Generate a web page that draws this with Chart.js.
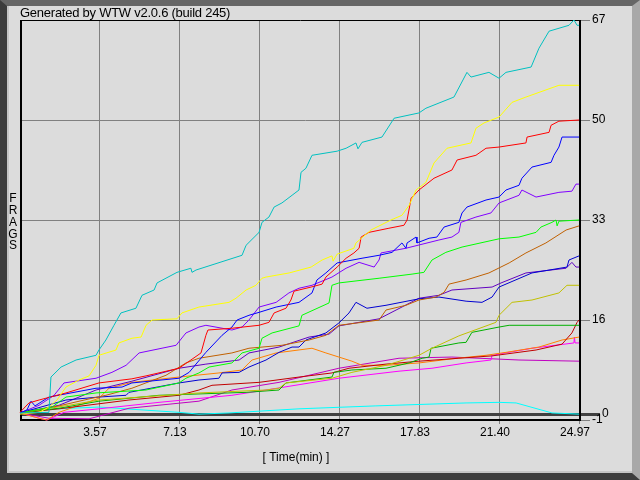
<!DOCTYPE html>
<html><head><meta charset="utf-8">
<script src="https://cdn.jsdelivr.net/npm/chart.js@4/dist/chart.umd.min.js"></script>
<style>
html,body{margin:0;padding:0;background:#dcdcdc;overflow:hidden;}
#frame{position:absolute;left:0;top:0;width:640px;height:480px;box-sizing:border-box;
 border-left:7px solid #3c3c3c;border-top:6px solid #666;border-right:8px solid #a8a8a8;border-bottom:7px solid #3c3c3c;
 background:#dcdcdc;box-shadow:inset 2px 0 0 #c4c4c4, inset 0 -2px 0 #c4c4c4;}
#c{position:absolute;left:0;top:0;}
</style></head><body>
<div id="frame"></div>
<canvas id="c" width="640" height="480"></canvas>
<script>
// ---- axis definitions ----
const xMax = 24.97;
const xTickValues = [0, 3.567, 7.134, 10.701, 14.269, 17.836, 21.403, 24.97];
const xTickLabels = ["", "3.57", "7.13", "10.70", "14.27", "17.83", "21.40", "24.97"];
const yTickValues = [67, 50, 33, 16, 0, -1];
const yTickLabels = ["67", "50", "33", "16", "0", "-1"];
const chartTitle = "Generated by WTW v2.0.6 (build 245)";
const xTitle = "[ Time(min) ]";
const yTitle = "FRAGS";

// ---- series: [time(min), frags] ----
const cyanPlayer = [[0,0.2],[1.29,0.3],[1.38,6.3],[1.83,8.0],[2.50,9.2],[3.39,10.0],[3.52,10.9],[3.83,12.6],[4.19,15.1],[4.50,17.2],[5.17,18.0],[5.44,20.2],[5.98,21.1],[6.11,22.3],[7.00,24.1],[7.62,24.8],[7.67,24.1],[7.85,24.5],[9.90,27.0],[10.08,28.7],[10.66,30.9],[10.79,32.6],[11.10,33.5],[11.33,35.2],[11.68,35.9],[12.13,37.2],[12.44,38.1],[12.53,41.1],[12.75,41.8],[13.02,44.0],[14.14,44.7],[14.54,45.2],[14.98,46.1],[15.07,45.1],[15.25,46.2],[16.14,47.1],[16.68,50.3],[17.79,51.2],[18.10,52.0],[19.35,53.9],[19.93,58.1],[20.11,57.3],[20.91,58.1],[21.36,57.1],[21.67,58.1],[22.79,59.0],[23.14,62.2],[23.59,65.1],[24.48,66.1],[24.70,67.0],[24.84,66.1],[24.93,66.1]];
const yellowPlayer = [[0,0],[0.85,0.3],[1.29,1.2],[1.65,2.4],[2.05,4.6],[2.63,5.8],[3.08,6.5],[3.39,8.3],[3.52,10.0],[4.28,10.9],[4.41,12.1],[4.99,12.9],[5.40,13.1],[5.62,15.1],[5.89,16.0],[7.00,16.2],[7.22,17.2],[7.98,18.2],[9.32,19.0],[9.63,19.7],[10.08,21.1],[10.52,21.9],[10.79,23.1],[10.97,23.3],[12.0,24.0],[12.98,25.0],[13.47,26.2],[13.91,26.9],[13.96,26.0],[14.14,27.2],[14.89,28.2],[14.98,29.1],[15.65,31.3],[16.54,33.0],[17.03,33.8],[17.35,35.5],[17.66,38.1],[18.10,39.4],[18.46,42.7],[19.04,45.2],[20.11,46.1],[20.33,48.6],[20.69,49.5],[21.36,50.5],[21.94,53.0],[22.56,53.9],[24.03,55.9],[24.93,55.9]];
const redPlayer = [[0,0.3],[0.40,1.9],[0.85,2.4],[2.05,3.6],[3.52,5.3],[4.99,6.0],[5.62,6.5],[7.09,7.8],[7.62,9.2],[8.07,10.4],[8.29,13.4],[8.38,14.3],[9.45,14.6],[10.66,15.1],[11.10,15.6],[11.33,17.2],[11.86,18.0],[12.08,19.4],[12.22,20.9],[12.98,21.6],[13.47,22.1],[13.64,23.3],[14.14,25.0],[14.54,26.5],[14.89,27.4],[15.12,28.2],[15.21,30.1],[15.56,30.9],[16.45,31.6],[17.12,32.1],[17.26,33.0],[17.44,36.7],[17.79,38.1],[18.46,40.1],[19.26,41.5],[19.49,43.2],[20.33,44.0],[20.78,45.2],[21.36,45.4],[22.56,46.1],[22.61,47.1],[23.59,47.9],[23.68,49.1],[24.03,49.8],[24.93,50.0]];
const bluePlayer = [[0,0.2],[0.31,0.7],[0.49,2.2],[0.67,1.4],[1.29,2.9],[3.39,4.4],[4.55,4.6],[4.99,5.3],[7.09,6.1],[7.54,7.1],[8.29,10.5],[9.01,13.4],[9.45,14.8],[9.68,16.0],[10.21,16.8],[10.66,17.3],[11.42,18.2],[12.44,19.0],[13.02,20.6],[13.24,22.8],[13.64,24.0],[14.14,25.7],[15.25,26.5],[16.01,27.0],[16.59,27.5],[17.03,29.1],[17.21,28.2],[17.26,29.1],[17.66,30.1],[17.70,29.1],[18.24,29.9],[18.59,30.1],[18.91,31.8],[19.57,32.6],[19.71,34.2],[19.93,35.2],[20.78,36.4],[21.36,36.9],[21.67,38.1],[22.25,38.9],[22.38,40.1],[22.83,42.0],[23.68,42.8],[23.81,44.0],[24.03,45.4],[24.17,47.1],[24.93,47.1]];
const purplePlayer = [[0,0.2],[0.85,1.5],[1.52,3.2],[1.96,5.3],[3.39,6.1],[4.10,7.1],[4.73,8.3],[5.31,10.4],[6.96,11.7],[7.40,13.8],[7.98,14.8],[8.29,15.1],[9.45,14.3],[9.90,14.8],[10.21,16.0],[10.66,18.2],[11.42,19.0],[11.99,20.6],[12.44,21.4],[13.02,21.9],[13.91,23.3],[14.54,24.8],[15.12,25.8],[15.79,25.0],[16.01,26.2],[16.10,27.4],[17.21,28.2],[18.68,29.6],[19.26,30.1],[19.57,30.9],[19.66,32.6],[20.33,33.5],[21.00,34.2],[21.36,35.9],[22.25,37.2],[22.38,38.1],[23.01,36.9],[24.03,37.7],[24.61,37.9],[24.79,39.1],[24.93,39.1]];
const greenPlayer = [[0,0.2],[1.43,1.2],[2.05,2.9],[3.39,3.6],[5.62,4.1],[7.09,5.3],[7.40,6.1],[7.98,7.0],[8.43,8.0],[9.45,8.7],[9.90,10.4],[10.66,11.2],[10.79,12.9],[11.24,13.8],[12.44,15.0],[12.57,16.8],[13.78,18.9],[13.91,21.9],[14.22,22.3],[16.01,23.1],[17.48,23.8],[18.01,24.1],[18.37,26.2],[18.99,27.5],[19.71,28.4],[21.36,29.8],[22.25,30.1],[23.01,30.9],[23.23,31.8],[23.72,32.6],[23.90,33.0],[23.95,32.0],[24.03,32.8],[24.93,33.0]];
const brownPlayer = [[0,0.2],[1.74,1.4],[3.21,2.7],[3.83,3.2],[4.99,4.4],[6.51,6.6],[7.40,8.7],[7.98,9.5],[9.45,10.4],[10.21,11.2],[11.68,11.7],[12.89,12.6],[13.64,13.4],[14.22,15.1],[15.25,15.6],[16.01,16.0],[16.32,17.7],[17.21,18.5],[17.79,19.4],[18.55,19.9],[18.91,20.7],[19.13,22.1],[19.89,22.8],[20.91,24.0],[21.81,25.7],[22.56,27.4],[23.45,29.1],[24.35,31.3],[24.93,32.0]];
const navyPlayer = [[0,0.2],[2.05,2.4],[3.52,2.9],[4.73,3.2],[4.86,3.7],[7.09,5.3],[7.98,5.8],[8.87,6.1],[9.01,7.0],[9.77,7.1],[10.21,8.0],[10.97,9.2],[11.55,10.5],[12.13,11.4],[12.44,11.4],[12.75,12.6],[13.64,13.8],[14.22,15.5],[14.67,17.2],[14.98,19.0],[15.47,18.0],[16.32,18.5],[17.79,19.6],[18.68,19.9],[19.89,19.2],[20.60,19.0],[21.05,19.9],[21.36,21.6],[22.83,24.0],[24.39,25.0],[24.48,26.2],[24.93,26.9]];
const violetPlayer = [[0,0.2],[1.74,1.5],[3.39,4.1],[4.99,5.6],[7.09,7.8],[8.29,8.5],[9.77,9.2],[10.21,10.4],[11.55,11.4],[12.89,13.1],[13.78,13.6],[14.22,15.0],[16.01,16.2],[17.79,19.7],[18.68,20.2],[19.26,21.1],[21.05,21.6],[21.45,22.3],[22.56,24.0],[24.35,24.8],[24.61,25.8],[24.79,25.0],[24.93,25.0]];
const olivePlayer = [[0,0.2],[2.18,1.5],[3.52,2.4],[7.98,3.6],[10.97,4.1],[11.55,4.4],[11.86,5.3],[13.91,6.1],[14.80,7.1],[16.32,8.3],[17.79,10.0],[18.37,11.2],[19.57,13.3],[21.22,15.6],[21.36,16.8],[21.94,19.0],[22.83,19.4],[24.03,20.6],[24.39,21.9],[24.93,21.9]];
const darkGreenPlayer = [[0,0.2],[1.74,1.0],[3.52,2.2],[6.20,3.2],[10.08,3.7],[11.55,4.1],[11.86,5.3],[13.91,6.3],[14.00,7.1],[14.80,7.5],[16.32,7.8],[17.35,8.7],[17.93,9.5],[18.24,9.7],[18.33,11.2],[19.57,12.1],[19.89,12.2],[20.15,13.9],[21.36,14.8],[21.81,15.1],[24.93,15.1]];
const darkRedPlayer = [[0,0.2],[1.74,0.9],[4.86,2.4],[7.09,3.2],[7.98,4.1],[8.56,4.9],[10.66,5.4],[12.44,6.3],[13.91,7.0],[14.67,7.8],[16.32,8.5],[17.79,9.0],[19.57,9.5],[21.05,9.9],[23.01,10.9],[24.17,11.9],[24.61,13.8],[24.84,15.6],[24.93,16.0]];
const orangePlayer = [[0,0.2],[0.85,-0.7],[1.20,-1.0],[1.74,0.3],[3.52,2.7],[3.97,4.4],[4.99,5.4],[7.09,6.3],[8.87,7.0],[9.90,7.5],[10.21,8.7],[10.35,9.2],[11.42,10.4],[13.02,11.2],[13.64,10.4],[14.80,9.0],[15.25,8.3],[16.32,8.3],[17.79,8.7],[19.26,9.4],[20.78,10.0],[21.67,10.5],[23.14,11.4],[24.17,12.6],[24.93,13.1]];
const magentaPlayer = [[0,0.2],[0.85,-0.7],[1.20,-1.0],[1.96,0.3],[3.52,0.9],[6.20,2.0],[9.45,3.2],[10.97,4.1],[14.22,6.1],[16.90,7.3],[18.37,7.8],[19.89,8.7],[21.00,9.2],[21.05,10.0],[22.83,11.2],[24.70,12.1],[24.72,13.1],[24.75,12.1],[24.93,12.1]];
const plumPlayer = [[0,0.2],[1.29,-0.7],[3.08,-0.8],[4.86,1.0],[7.98,2.2],[9.45,4.1],[11.55,5.4],[14.22,7.8],[16.90,9.5],[19.26,9.7],[22.25,9.2],[24.93,9.0]];
const aquaPlayer = [[0,0.2],[0.40,0.7],[3.52,1.2],[7.09,0.3],[7.98,0],[9.32,0.2],[12.44,0.9],[15.87,1.4],[19.89,1.9],[21.36,2.0],[22.12,1.9],[23.72,0.2],[24.93,0]];

const seriesList = [cyanPlayer, yellowPlayer, redPlayer, bluePlayer, purplePlayer, greenPlayer, brownPlayer, navyPlayer, violetPlayer, olivePlayer, darkGreenPlayer, darkRedPlayer, orangePlayer, magentaPlayer, plumPlayer, aquaPlayer];
const seriesColors = ['#00c0c0','#ffff00','#ff0000','#0000ff','#8000ff','#00ff00','#c06000','#0000d0','#6000c0','#c0c000','#00b000','#c00000','#ff8000','#ff00ff','#c000c0','#00ffff'];

const FONT = '"Liberation Sans", Arial, sans-serif';

const framePlugin = {
  id: 'framePlugin',
  beforeDatasetsDraw(chart) {
    const {ctx, scales: {x, y}} = chart;
    const L = 21, R = 580, T = 20, B = 420;
    ctx.save();
    // grid lines
    ctx.strokeStyle = '#808080';
    ctx.lineWidth = 1;
    xTickValues.forEach((v, i) => {
      if (i === 0 || i === xTickValues.length - 1) return;
      const px = Math.round(x.getPixelForValue(v)) - 0.5;
      ctx.beginPath(); ctx.moveTo(px, T); ctx.lineTo(px, B + 4); ctx.stroke();
    });
    // x tick mark at the end
    { const px = R - 0.5; ctx.beginPath(); ctx.moveTo(px, B); ctx.lineTo(px, B + 4); ctx.stroke(); }
    yTickValues.forEach(v => {
      const py = Math.round(y.getPixelForValue(v)) + 0.5;
      if (v === 0) return;
      if (v === -1 || v === 67) {
        ctx.beginPath(); ctx.moveTo(R, py); ctx.lineTo(R + 10, py); ctx.stroke();
        return;
      }
      ctx.beginPath(); ctx.moveTo(L, py); ctx.lineTo(R + 10, py); ctx.stroke();
    });
    // zero line
    ctx.strokeStyle = '#404040';
    ctx.lineWidth = 3;
    const zy = Math.round(y.getPixelForValue(0)) + 0.5;
    ctx.beginPath(); ctx.moveTo(L, zy); ctx.lineTo(R + 20, zy); ctx.stroke();
    // borders
    ctx.strokeStyle = '#000';
    ctx.lineWidth = 1;
    ctx.beginPath(); ctx.moveTo(20, 20.5); ctx.lineTo(581, 20.5); ctx.stroke();
    ctx.lineWidth = 2;
    ctx.beginPath(); ctx.moveTo(21, 20); ctx.lineTo(21, 421); ctx.stroke();
    ctx.beginPath(); ctx.moveTo(580, 20); ctx.lineTo(580, 421); ctx.stroke();
    ctx.beginPath(); ctx.moveTo(20, 420); ctx.lineTo(581, 420); ctx.stroke();

    // texts
    ctx.fillStyle = '#000';
    ctx.font = '13px ' + FONT;
    ctx.textBaseline = 'alphabetic';
    ctx.textAlign = 'left';
    try { ctx.letterSpacing = '-0.25px'; } catch (e) {}
    ctx.fillText(chartTitle, 20, 17);
    try { ctx.letterSpacing = '0px'; } catch (e) {}
    ctx.font = '12px ' + FONT;
    ctx.textBaseline = 'middle';
    ctx.textAlign = 'center';
    xTickValues.forEach((v, i) => {
      if (!xTickLabels[i]) return;
      ctx.fillText(xTickLabels[i], x.getPixelForValue(v) - 5, 433);
    });
    ctx.textAlign = 'left';
    yTickValues.forEach((v, i) => {
      const py = y.getPixelForValue(v);
      const lx = v === 0 ? 602 : 592;
      ctx.fillText(yTickLabels[i], lx, py);
    });
    ctx.textAlign = 'center';
    ctx.fillText(xTitle, 296, 458);
    for (let i = 0; i < yTitle.length; i++) {
      ctx.fillText(yTitle[i], 13, 198.5 + i * 11.9);
    }
    ctx.restore();
  }
};

new Chart(document.getElementById('c'), {
  type: 'line',
  data: {
    datasets: seriesList.map((s, i) => ({
      data: s.map(p => ({x: p[0], y: p[1]})),
      borderColor: seriesColors[i],
      borderWidth: 1,
      pointRadius: 0,
      tension: 0,
      fill: false,
      clip: 2
    }))
  },
  options: {
    responsive: false,
    devicePixelRatio: 1,
    animation: false,
    events: [],
    layout: {padding: {left: 20, top: 20, right: 60, bottom: 60}},
    plugins: {legend: {display: false}, tooltip: {enabled: false}},
    scales: {
      x: {type: 'linear', min: 0, max: xMax, display: false},
      y: {type: 'linear', min: -1, max: 67, display: false}
    }
  },
  plugins: [framePlugin]
});
</script>
</body></html>
